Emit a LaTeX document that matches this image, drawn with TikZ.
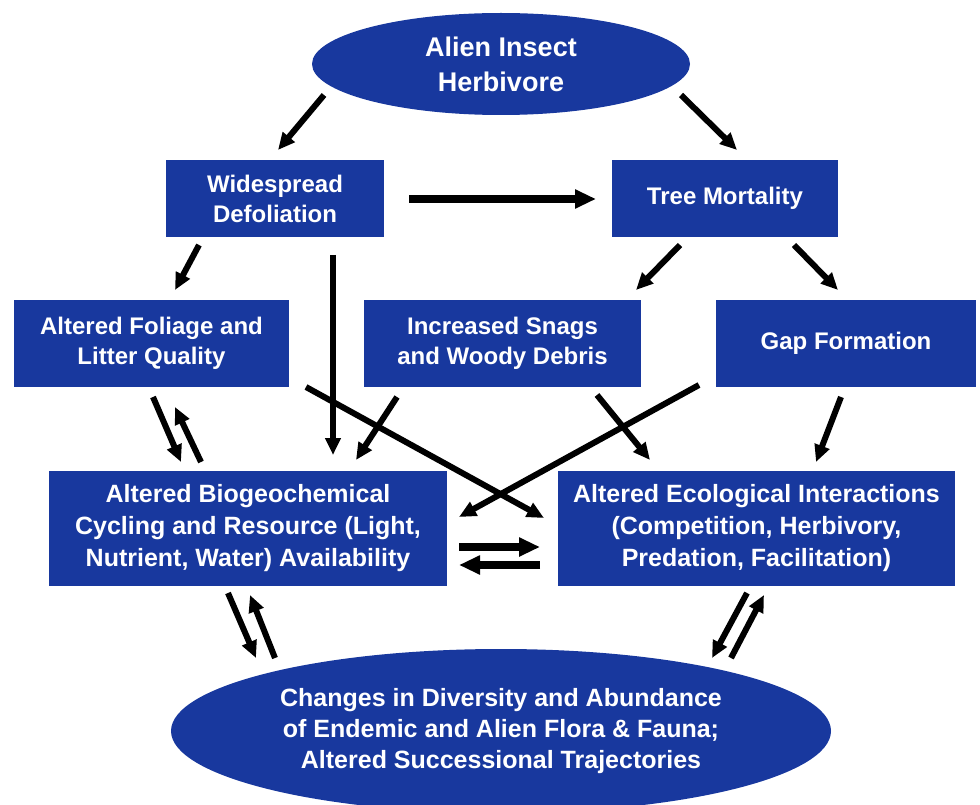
\documentclass[tikz,border=0pt]{standalone}
\usepackage{fontspec}
\setmainfont{Liberation Sans}
\usetikzlibrary{shapes.geometric,arrows.meta}
\definecolor{boxblue}{RGB}{24,56,158}
\begin{document}
\begin{tikzpicture}[x=1pt,y=-1pt,
  box/.style={rectangle, fill=boxblue, text=white, font=\bfseries\fontsize{24}{30}\selectfont, align=center, inner sep=0pt},
  bigbox/.style={box, font=\bfseries\fontsize{25}{32}\selectfont},
  oval/.style={ellipse, fill=boxblue, text=white, align=center, inner sep=0pt},
  arr/.style={draw=black, line width=6pt, -{Triangle[length=17pt,width=15pt]}},
  harr/.style={draw=black, line width=7.5pt, -{Triangle[length=21pt,width=18pt]}}
]
\useasboundingbox (0,0) rectangle (980,805);

\node[oval, minimum width=378pt, minimum height=102pt, font=\bfseries\fontsize{27}{35}\selectfont] (top) at (501,64) {Alien Insect\\Herbivore};
\node[box, minimum width=218pt, minimum height=77pt] (wd) at (275,198.5) {Widespread\\Defoliation};
\node[box, minimum width=226pt, minimum height=77pt] (tm) at (725,198.5) {Tree Mortality};
\node[box, minimum width=275pt, minimum height=87pt] (fol) at (151.5,343.5) {Altered Foliage and\\Litter Quality};
\node[box, minimum width=277pt, minimum height=87pt] (snag) at (502.5,343.5) {Increased Snags\\and Woody Debris};
\node[box, minimum width=260pt, minimum height=87pt] (gap) at (846,343.5) {Gap Formation};
\node[bigbox, minimum width=398pt, minimum height=115pt] (bio) at (248,528.5) {Altered Biogeochemical\\Cycling and Resource (Light,\\Nutrient, Water) Availability};
\node[bigbox, minimum width=397pt, minimum height=115pt] (eco) at (756.5,528.5) {Altered Ecological Interactions\\(Competition, Herbivory,\\Predation, Facilitation)};
\node[oval, minimum width=660pt, minimum height=164pt, font=\bfseries\fontsize{25}{31}\selectfont] (chg) at (501,731) {Changes in Diversity and Abundance\\of Endemic and Alien Flora \& Fauna;\\Altered Successional Trajectories};

\draw[arr] ([shift={(-177,31)}]top.center) -- ([shift={(3,-48.5)}]wd.center);
\draw[arr] ([shift={(180,31)}]top.center) -- ([shift={(12,-48.5)}]tm.center);
\draw[harr] ([shift={(134,0.5)}]wd.center) -- ([shift={(-129,0.5)}]tm.center);
\draw[arr] ([shift={(-76,46.5)}]wd.center) -- ([shift={(23.5,-53.5)}]fol.center);
\draw[arr] ([shift={(58,56.5)}]wd.center) -- ([shift={(85,-73.5)}]bio.center);
\draw[arr] ([shift={(-45,46.5)}]tm.center) -- ([shift={(133.5,-53.5)}]snag.center);
\draw[arr] ([shift={(69,46.5)}]tm.center) -- ([shift={(-8,-53.5)}]gap.center);
\draw[arr] ([shift={(1.5,53.5)}]fol.center) -- ([shift={(-67,-66.5)}]bio.center);
\draw[arr] ([shift={(-47,-66.5)}]bio.center) -- ([shift={(23.5,63.5)}]fol.center);
\draw[arr] ([shift={(154.5,43.5)}]fol.center) -- ([shift={(-212.5,-10.5)}]eco.center);
\draw[arr] ([shift={(-105.5,53.5)}]snag.center) -- ([shift={(108,-68.5)}]bio.center);
\draw[arr] ([shift={(94.5,51.5)}]snag.center) -- ([shift={(-106.5,-68.5)}]eco.center);
\draw[arr] ([shift={(-147,41.5)}]gap.center) -- ([shift={(211,-11.5)}]bio.center);
\draw[arr] ([shift={(-5,53.5)}]gap.center) -- ([shift={(59.5,-66.5)}]eco.center);
\draw[harr] ([shift={(211,18.5)}]bio.center) -- ([shift={(-216.5,18.5)}]eco.center);
\draw[harr] ([shift={(-216.5,36.5)}]eco.center) -- ([shift={(211,36.5)}]bio.center);
\draw[arr] ([shift={(-20,64.5)}]bio.center) -- ([shift={(-245,-73)}]chg.center);
\draw[arr] ([shift={(-226,-73)}]chg.center) -- ([shift={(2,66.5)}]bio.center);
\draw[arr] ([shift={(-9.5,64.5)}]eco.center) -- ([shift={(211,-73)}]chg.center);
\draw[arr] ([shift={(230,-73)}]chg.center) -- ([shift={(7.5,66.5)}]eco.center);
\end{tikzpicture}
\end{document}
